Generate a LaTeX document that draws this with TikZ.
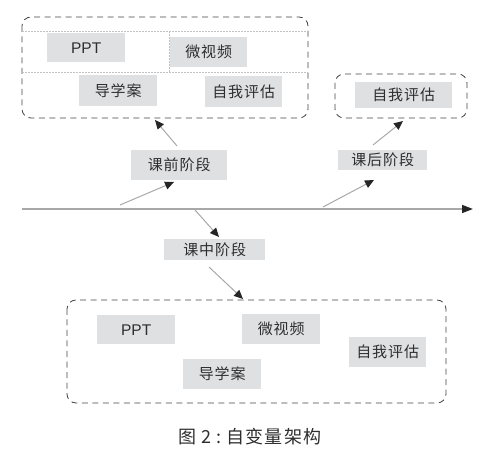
\documentclass[tikz,border=0pt]{standalone}
\usepackage{fontspec}
\setmainfont{Liberation Sans}
\newfontfamily\cjk[LetterSpace=6]{Noto Sans CJK SC}
\usetikzlibrary{arrows.meta}
\definecolor{boxgray}{HTML}{DFE0E2}
\definecolor{txt}{HTML}{2E2E2E}
\definecolor{linegray}{HTML}{A8A8A8}
\definecolor{dashgray}{HTML}{444444}
\tikzset{
  item/.style={fill=boxgray, inner sep=0pt, text=txt, font=\cjk\fontsize{15}{17}\selectfont, anchor=north west},
  latin/.style={font=\fontsize{15.5}{17}\selectfont},
  group/.style={draw=dashgray, dash pattern=on 6pt off 4.5pt, line width=0.8pt, rounded corners=9pt},
  inner/.style={draw=linegray!70, dash pattern=on 2pt off 1pt, line width=0.5pt},
  conn/.style={draw=linegray, line width=1pt, -{Triangle[length=9pt,width=8pt,color=black!85]}},
}
\begin{document}
\begin{tikzpicture}[x=1pt,y=-1pt]
\useasboundingbox (0,0) rectangle (482,454);
% top-left group
\draw[group] (22,17) rectangle (308,118);
\draw[inner] (22,31) -- (308,31);
\draw[inner] (22,72) -- (308,72);
\draw[inner] (169,31) -- (169,72);
\node[item, latin, minimum width=78pt, minimum height=29pt] (pptA) at (47,33) {PPT};
\node[item, minimum width=77pt, minimum height=30pt] (wspA) at (170,37) {微视频};
\node[item, minimum width=78pt, minimum height=31pt] (dxaA) at (79,75) {导学案};
\node[item, minimum width=77pt, minimum height=31pt] (zwpA) at (205,76) {自我评估};
% top-right group
\draw[group] (335,74) rectangle (467,118);
\node[item, minimum width=97pt, minimum height=26pt] (zwpC) at (355,82) {自我评估};
% stages
\node[item, minimum width=96pt, minimum height=30pt] (qian) at (131,150) {课前阶段};
\node[item, minimum width=89pt, minimum height=20pt] (hou) at (338,150) {课后阶段};
\node[item, minimum width=101pt, minimum height=21pt] (zhong) at (164,239) {课中阶段};
% bottom group
\draw[group] (67,300) rectangle (446,403);
\node[item, latin, minimum width=78pt, minimum height=29pt] (pptB) at (97,315) {PPT};
\node[item, minimum width=78pt, minimum height=30pt] (wspB) at (242,314) {微视频};
\node[item, minimum width=77pt, minimum height=30pt] (zwpB) at (349,337) {自我评估};
\node[item, minimum width=78pt, minimum height=30pt] (dxaB) at (183,359) {导学案};
% axis
\coordinate (axL) at (22,209);
\coordinate (axR) at (473,209);
\draw[draw=linegray, line width=1.5pt, -{Triangle[length=11pt,width=8pt,color=black!85]}] (axL) -- (axR);
% connectors
\coordinate (a1s) at (120,205);
\coordinate (a1e) at (174,182);
\coordinate (a2s) at (177,146);
\coordinate (a2e) at (155,120);
\coordinate (b1s) at (323,207);
\coordinate (b1e) at (374,180);
\coordinate (b2s) at (373,145);
\coordinate (b2e) at (403,121);
\coordinate (c1s) at (195,210);
\coordinate (c1e) at (219,237);
\coordinate (c2s) at (209,267);
\coordinate (c2e) at (243,299);
\draw[conn] (a1s) -- (a1e);
\draw[conn] (a2s) -- (a2e);
\draw[conn] (b1s) -- (b1e);
\draw[conn] (b2s) -- (b2e);
\draw[conn] (c1s) -- (c1e);
\draw[conn] (c2s) -- (c2e);
% caption
\node[text=txt, font=\cjk\fontsize{18}{20}\selectfont] (cap) at (250,437) {图\hspace{5pt}2\hspace{5pt}:\hspace{5pt}自变量架构};
\end{tikzpicture}
\end{document}
